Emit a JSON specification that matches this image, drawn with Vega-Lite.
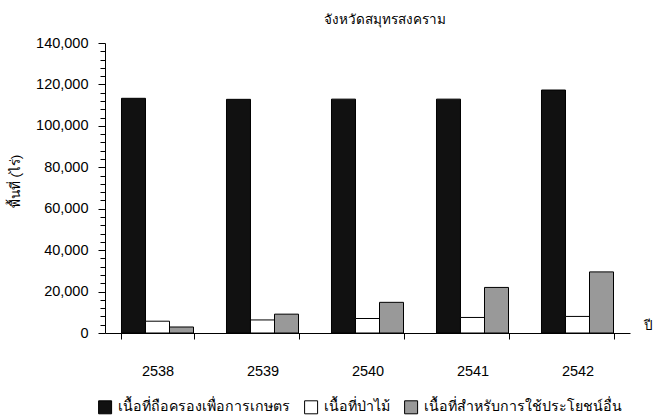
{
  "$schema": "https://vega.github.io/schema/vega-lite/v6.json",
  "autosize": "none",
  "width": 525,
  "height": 290,
  "padding": {"left": 105, "top": 43, "right": 26, "bottom": 86},
  "background": "white",
  "config": {
    "font": "Liberation Sans, Arial, sans-serif",
    "view": {"stroke": null},
    "axis": {"labelFont": "Liberation Sans, Arial, sans-serif", "titleFont": "Liberation Sans, Arial, sans-serif"}
  },
  "title": {
    "text": "จังหวัดสมุทรสงคราม",
    "fontSize": 13.5,
    "fontWeight": "normal",
    "color": "#000",
    "anchor": "middle",
    "dx": 17,
    "offset": 9,
    "frame": "group"
  },
  "data": {
    "values": [
      {"year": "2538", "type": "เนื้อที่ถือครองเพื่อการเกษตร", "area": 113300},
      {"year": "2538", "type": "เนื้อที่ป่าไม้", "area": 5700},
      {"year": "2538", "type": "เนื้อที่สำหรับการใช้ประโยชน์อื่น", "area": 2900},
      {"year": "2539", "type": "เนื้อที่ถือครองเพื่อการเกษตร", "area": 112800},
      {"year": "2539", "type": "เนื้อที่ป่าไม้", "area": 6300},
      {"year": "2539", "type": "เนื้อที่สำหรับการใช้ประโยชน์อื่น", "area": 9100},
      {"year": "2540", "type": "เนื้อที่ถือครองเพื่อการเกษตร", "area": 112900},
      {"year": "2540", "type": "เนื้อที่ป่าไม้", "area": 7000},
      {"year": "2540", "type": "เนื้อที่สำหรับการใช้ประโยชน์อื่น", "area": 14800},
      {"year": "2541", "type": "เนื้อที่ถือครองเพื่อการเกษตร", "area": 112900},
      {"year": "2541", "type": "เนื้อที่ป่าไม้", "area": 7500},
      {"year": "2541", "type": "เนื้อที่สำหรับการใช้ประโยชน์อื่น", "area": 22000},
      {"year": "2542", "type": "เนื้อที่ถือครองเพื่อการเกษตร", "area": 117300},
      {"year": "2542", "type": "เนื้อที่ป่าไม้", "area": 8000},
      {"year": "2542", "type": "เนื้อที่สำหรับการใช้ประโยชน์อื่น", "area": 29500}
    ]
  },
  "mark": {"type": "bar", "stroke": "#000", "strokeWidth": 1},
  "encoding": {
    "x": {
      "field": "year",
      "type": "nominal",
      "scale": {"paddingInner": 0.314, "paddingOuter": 0.157},
      "axis": {
        "title": "ปี",
        "titleFontSize": 13.5,
        "titleFontWeight": "normal",
        "titleColor": "#000",
        "titleX": 538,
        "titleY": -8,
        "titleAlign": "left",
        "titleBaseline": "middle",
        "titleAngle": 0,
        "labelAngle": 0,
        "labelFontSize": 14.5,
        "labelColor": "#000",
        "labelPadding": 25,
        "tickBand": "extent",
        "tickSize": 6,
        "tickColor": "#000",
        "domainColor": "#000",
        "grid": false
      }
    },
    "xOffset": {
      "field": "type",
      "type": "nominal",
      "sort": ["เนื้อที่ถือครองเพื่อการเกษตร", "เนื้อที่ป่าไม้", "เนื้อที่สำหรับการใช้ประโยชน์อื่น"],
      "scale": {"paddingInner": 0, "paddingOuter": 0}
    },
    "y": {
      "field": "area",
      "type": "quantitative",
      "scale": {"domain": [0, 140000], "nice": false},
      "axis": {
        "title": "พื้นที่ (ไร่)",
        "titleFontSize": 13.5,
        "titleFontWeight": "normal",
        "titleColor": "#000",
        "titleX": -90,
        "titleY": 138,
        "titleAlign": "center",
        "titleBaseline": "middle",
        "values": [0, 4000, 8000, 12000, 16000, 20000, 24000, 28000, 32000, 36000, 40000, 44000, 48000, 52000, 56000, 60000, 64000, 68000, 72000, 76000, 80000, 84000, 88000, 92000, 96000, 100000, 104000, 108000, 112000, 116000, 120000, 124000, 128000, 132000, 136000, 140000],
        "labelExpr": "datum.value % 20000 === 0 ? format(datum.value, ',d') : ''",
        "labelFontSize": 14.5,
        "labelColor": "#000",
        "labelPadding": 10,
        "tickSize": {"condition": {"test": "datum.value % 20000 === 0", "value": 7}, "value": 5},
        "tickColor": "#000",
        "domainColor": "#000",
        "grid": false
      }
    },
    "fill": {
      "field": "type",
      "type": "nominal",
      "sort": ["เนื้อที่ถือครองเพื่อการเกษตร", "เนื้อที่ป่าไม้", "เนื้อที่สำหรับการใช้ประโยชน์อื่น"],
      "scale": {
        "domain": ["เนื้อที่ถือครองเพื่อการเกษตร", "เนื้อที่ป่าไม้", "เนื้อที่สำหรับการใช้ประโยชน์อื่น"],
        "range": ["#111111", "#ffffff", "#999999"]
      },
      "legend": {
        "title": null,
        "orient": "none",
        "direction": "horizontal",
        "legendX": -7,
        "legendY": 357,
        "symbolType": "square",
        "symbolSize": 169,
        "symbolStrokeColor": "#000",
        "symbolStrokeWidth": 1,
        "labelFontSize": 14.2,
        "labelColor": "#000",
        "labelLimit": 300,
        "labelOffset": 6,
        "columnPadding": 11
      }
    }
  }
}
